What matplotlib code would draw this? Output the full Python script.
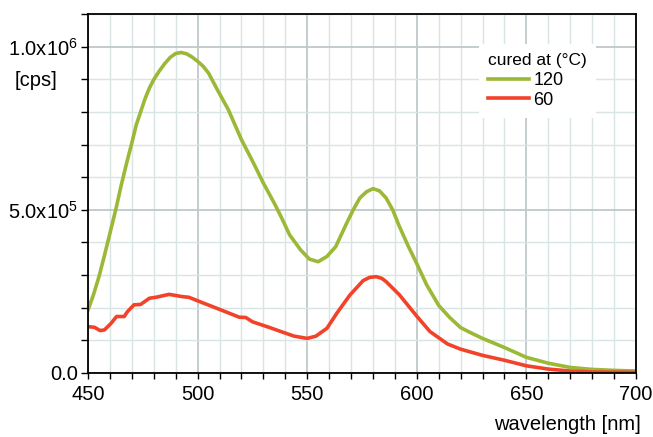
import matplotlib
matplotlib.use("Agg")
import matplotlib.pyplot as plt
from matplotlib.ticker import MultipleLocator, FixedLocator

plt.rcParams['font.family'] = ['Liberation Sans', 'DejaVu Sans']
plt.rcParams['mathtext.default'] = 'regular'

# wavelength [nm] and intensities [cps] (units of 1e6)
wl_120 = [450, 452.5, 455, 457.5, 460, 463, 465, 467.5, 470, 472, 474, 476, 478, 480, 482.5, 485,
          487.5, 490, 492.5, 495, 497.5, 500, 502.5, 505, 509, 514,
          520, 525, 530, 535, 538, 542, 547, 551, 555, 559, 563, 568, 571, 574, 577, 580, 583, 586,
          589, 592, 596, 600, 604.5, 610, 615, 620, 625, 630, 640, 647, 650, 660, 670, 680, 690, 700]
cps_120 = [0.193, 0.24, 0.295, 0.36, 0.428, 0.51, 0.571, 0.64, 0.705, 0.76, 0.80, 0.84, 0.873,
           0.899, 0.925, 0.948, 0.967, 0.979, 0.982, 0.978, 0.968,
           0.955, 0.94, 0.919, 0.868, 0.807, 0.715, 0.65, 0.582, 0.52, 0.48, 0.423, 0.377, 0.349,
           0.341, 0.357, 0.387, 0.459, 0.50, 0.536, 0.555, 0.565, 0.558, 0.536, 0.50, 0.45,
           0.39, 0.335, 0.27, 0.207, 0.17, 0.139, 0.122, 0.106, 0.078, 0.057, 0.048, 0.03,
           0.017, 0.011, 0.008, 0.006]

wl_60 = [450, 453, 455.5, 457.5, 460.5, 463, 466.5, 468, 471, 474, 478, 481, 487, 493, 496,
         502, 510, 519, 522, 525, 533, 538, 544, 550, 554, 559, 563.5, 569.5, 575.5, 578.5, 581.5,
         584, 586, 592, 600, 606, 610, 614, 620, 630, 640, 650, 660, 670, 680, 700]
cps_60 = [0.142, 0.14, 0.13, 0.132, 0.152, 0.173, 0.173, 0.188, 0.209, 0.21, 0.229, 0.232,
          0.241, 0.234, 0.232, 0.216, 0.195, 0.171, 0.17, 0.157, 0.139, 0.127, 0.113, 0.106,
          0.113, 0.137, 0.183, 0.239, 0.283, 0.293, 0.295, 0.29, 0.28, 0.24, 0.174, 0.127,
          0.108, 0.089, 0.073, 0.054, 0.039, 0.022, 0.012, 0.006, 0.003, 0.002]

series_labels = ['120', '60']
series_colors = ['#9bb836', '#f2432a']

fig = plt.figure(figsize=(6.53, 4.37), dpi=100)
ax = fig.add_axes([88/653, 1-373/437, 548/653, 359/437])

ax.plot(wl_120, [v*1e6 for v in cps_120], color=series_colors[0], lw=2.6,
        label=series_labels[0], solid_joinstyle='round')
ax.plot(wl_60, [v*1e6 for v in cps_60], color=series_colors[1], lw=2.6,
        label=series_labels[1], solid_joinstyle='round')

ax.set_xlim(450, 700)
ax.set_ylim(0, 1.1e6)
ax.xaxis.set_major_locator(MultipleLocator(50))
ax.xaxis.set_minor_locator(MultipleLocator(10))
ax.yaxis.set_major_locator(FixedLocator([0, 5e5, 1e6]))
ax.yaxis.set_minor_locator(MultipleLocator(1e5))
ax.set_yticklabels(['0.0', '5.0x10$^{5}$', '1.0x10$^{6}$'])

ax.grid(which='minor', color='#d9e5e5', lw=1.0)
ax.grid(which='major', color='#bfc8cb', lw=1.3)
ax.set_axisbelow(True)

ax.tick_params(which='both', direction='out', colors='black', labelsize=14.5, width=1.0)
ax.tick_params(axis='x', which='both', length=4, pad=5)
ax.tick_params(axis='y', which='both', length=5, pad=2)
for s in ax.spines.values():
    s.set_color('black')
    s.set_linewidth(1.3)

fig.text(15/653, 1-80/437, '[cps]', fontsize=14.5, va='center', ha='left')
fig.text(641/653, 1-425/437, 'wavelength [nm]', fontsize=14.5, va='center', ha='right')

leg = ax.legend(title='cured at (°C)', loc='upper left', bbox_to_anchor=(0.697, 0.942),
                frameon=True, facecolor='white', edgecolor='none', framealpha=1,
                fancybox=False, fontsize=13, title_fontsize=12.5, handlelength=2.25,
                handletextpad=0.25, labelspacing=0.15, borderpad=0.5, alignment='left')
leg._legend_box.sep = 3

fig.savefig('out.png', dpi=100)
